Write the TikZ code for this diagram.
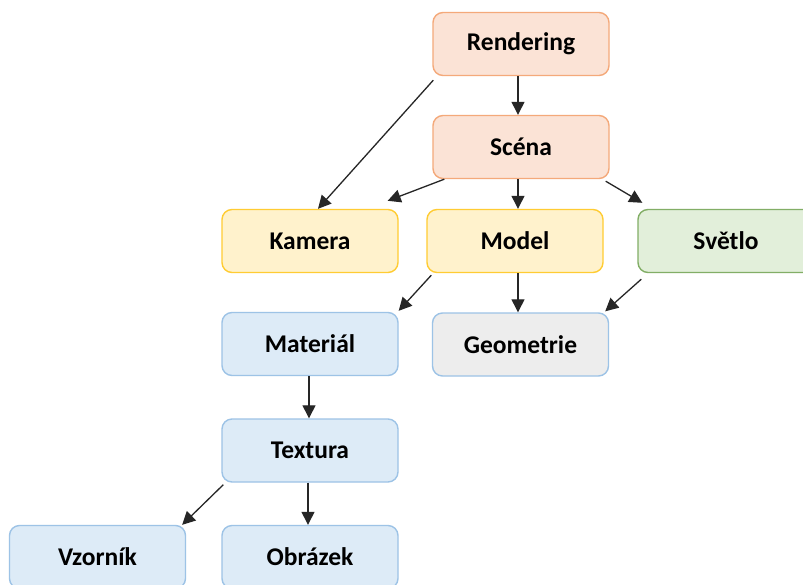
\documentclass[tikz,border=0pt]{standalone}
\usepackage{fontspec}
\setmainfont{Carlito}
\usetikzlibrary{arrows.meta,calc}
\definecolor{orfill}{HTML}{FBE3D6}
\definecolor{ordraw}{HTML}{F4A97A}
\definecolor{yefill}{HTML}{FFF2CC}
\definecolor{yedraw}{HTML}{FFCC33}
\definecolor{grfill}{HTML}{E2EFDA}
\definecolor{grdraw}{HTML}{82AE66}
\definecolor{blfill}{HTML}{DDEBF7}
\definecolor{bldraw}{HTML}{9DC3E6}
\definecolor{gyfill}{HTML}{EDEDED}
\tikzset{
  box/.style={draw, rounded corners=10pt, line width=1.4pt, minimum width=176pt, minimum height=63pt,
    inner sep=0pt, font=\fontsize{25.5}{30}\selectfont\bfseries, text=black},
  orbox/.style={box, fill=orfill, draw=ordraw},
  yebox/.style={box, fill=yefill, draw=yedraw},
  grbox/.style={box, fill=grfill, draw=grdraw},
  blbox/.style={box, fill=blfill, draw=bldraw},
  gybox/.style={box, fill=gyfill, draw=bldraw},
  conn/.style={line width=1.3pt, draw=black!85, -{Triangle[length=13pt,width=13pt]}}
}
\begin{document}
\begin{tikzpicture}[x=1pt,y=-1pt]
\clip (0,0) rectangle (803,584);
\fill[white] (0,0) rectangle (803,584);
\node[orbox] (rendering) at (521,44) {Rendering};
\node[orbox] (scena) at (521,147) {Scéna};
\node[yebox] (kamera) at (310,241) {Kamera};
\node[yebox] (model) at (515,241) {Model};
\node[grbox] (svetlo) at (726,241) {Světlo};
\node[blbox] (material) at (310,344) {Materiál};
\node[gybox] (geometrie) at (520.5,344.5) {Geometrie};
\node[blbox] (textura) at (310,450.5) {Textura};
\node[blbox] (vzornik) at (97.5,557) {Vzorník};
\node[blbox] (obrazek) at (310,557) {Obrázek};

\draw[conn] ([xshift=-3pt]rendering.south) -- ([xshift=-3pt]scena.north);
\draw[conn] ([shift={(1pt,-4pt)}]rendering.south west) -- ([xshift=8pt]kamera.north);
\draw[conn] ([xshift=12pt]scena.south west) -- ([shift={(-11pt,8pt)}]kamera.north east);
\draw[conn] ([xshift=-3pt]scena.south) -- ([xshift=3pt]model.north);
\draw[conn] ([shift={(-4pt,-2pt)}]scena.south east) -- ([shift={(5pt,6pt)}]svetlo.north west);
\draw[conn] ([shift={(5pt,-2pt)}]model.south west) -- ([yshift=1pt]material.north east);
\draw[conn] ([xshift=3pt]model.south) -- ([xshift=-2.5pt]geometrie.north);
\draw[conn] ([shift={(4pt,-6pt)}]svetlo.south west) -- ([shift={(-4pt,1pt)}]geometrie.north east);
\draw[conn] ([xshift=-1pt]material.south) -- ([xshift=-1pt]textura.north);
\draw[conn] ([shift={(2pt,-2pt)}]textura.south west) -- ([xshift=-4pt]vzornik.north east);
\draw[conn] ([xshift=-2pt]textura.south) -- ([xshift=-2pt]obrazek.north);
\end{tikzpicture}
\end{document}
